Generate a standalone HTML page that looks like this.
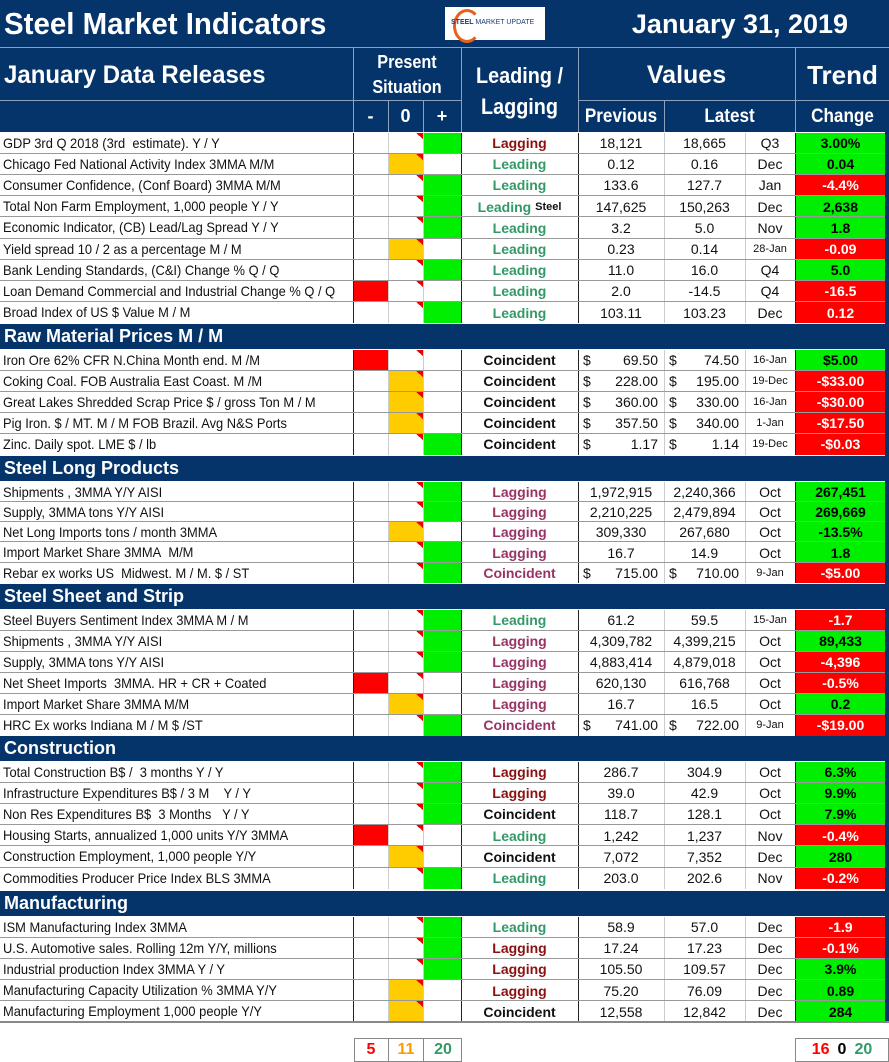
<!DOCTYPE html>
<html><head><meta charset="utf-8">
<style>
body{margin:0;width:889px;height:1061px;background:#fff;position:relative;overflow:hidden;font-family:"Liberation Sans",Arial,sans-serif}
.a{position:absolute;box-sizing:border-box}
.nav{background:#04346a}
.w{color:#fff;font-weight:bold;white-space:nowrap}
.c{display:flex;align-items:center;justify-content:center;white-space:nowrap}
</style></head><body>
<div id="root"></div>
<script>
// Table data
const sections = ["General Economy","Raw Material Prices M / M","Steel Long Products","Steel Sheet and Strip","Construction","Manufacturing"];
const sectionTops = [101,324,456,584,736,891];
const labels = [
["GDP 3rd Q 2018 (3rd  estimate). Y / Y","Chicago Fed National Activity Index 3MMA M/M","Consumer Confidence, (Conf Board) 3MMA M/M","Total Non Farm Employment, 1,000 people Y / Y","Economic Indicator, (CB) Lead/Lag Spread Y / Y","Yield spread 10 / 2 as a percentage M / M","Bank Lending Standards, (C&I) Change % Q / Q","Loan Demand Commercial and Industrial Change % Q / Q","Broad Index of US $ Value M / M"],
["Iron Ore 62% CFR N.China Month end. M /M","Coking Coal. FOB Australia East Coast. M /M","Great Lakes Shredded Scrap Price $ / gross Ton M / M","Pig Iron. $ / MT. M / M FOB Brazil. Avg N&S Ports","Zinc. Daily spot. LME $ / lb"],
["Shipments , 3MMA Y/Y AISI","Supply, 3MMA tons Y/Y AISI","Net Long Imports tons / month 3MMA","Import Market Share 3MMA  M/M","Rebar ex works US  Midwest. M / M. $ / ST"],
["Steel Buyers Sentiment Index 3MMA M / M","Shipments , 3MMA Y/Y AISI","Supply, 3MMA tons Y/Y AISI","Net Sheet Imports  3MMA. HR + CR + Coated","Import Market Share 3MMA M/M","HRC Ex works Indiana M / M $ /ST"],
["Total Construction B$ /  3 months Y / Y","Infrastructure Expenditures B$ / 3 M    Y / Y","Non Res Expenditures B$  3 Months   Y / Y","Housing Starts, annualized 1,000 units Y/Y 3MMA","Construction Employment, 1,000 people Y/Y","Commodities Producer Price Index BLS 3MMA"],
["ISM Manufacturing Index 3MMA","U.S. Automotive sales. Rolling 12m Y/Y, millions","Industrial production Index 3MMA Y / Y","Manufacturing Capacity Utilization % 3MMA Y/Y","Manufacturing Employment 1,000 people Y/Y"]];
const situation = [[1,0,1,1,1,0,1,-1,1],[-1,0,0,0,1],[1,1,0,1,1],[1,1,1,-1,0,1],[1,1,1,-1,0,1],[1,1,1,0,0]];
const types = [["Lagging","Leading","Leading","Leading","Leading","Leading","Leading","Leading","Leading"],["Coincident","Coincident","Coincident","Coincident","Coincident"],["Lagging","Lagging","Lagging","Lagging","Coincident"],["Leading","Lagging","Lagging","Lagging","Lagging","Coincident"],["Lagging","Lagging","Coincident","Leading","Coincident","Leading"],["Leading","Lagging","Lagging","Lagging","Coincident"]];
const previous = [["18,121","0.12","133.6","147,625","3.2","0.23","11.0","2.0","103.11"],["$69.50","$228.00","$360.00","$357.50","$1.17"],["1,972,915","2,210,225","309,330","16.7","$715.00"],["61.2","4,309,782","4,883,414","620,130","16.7","$741.00"],["286.7","39.0","118.7","1,242","7,072","203.0"],["58.9","17.24","105.50","75.20","12,558"]];
const latest = [["18,665","0.16","127.7","150,263","5.0","0.14","16.0","-14.5","103.23"],["$74.50","$195.00","$330.00","$340.00","$1.14"],["2,240,366","2,479,894","267,680","14.9","$710.00"],["59.5","4,399,215","4,879,018","616,768","16.5","$722.00"],["304.9","42.9","128.1","1,237","7,352","202.6"],["57.0","17.23","109.57","76.09","12,842"]];
const periods = [["Q3","Dec","Jan","Dec","Nov","28-Jan","Q4","Q4","Dec"],["16-Jan","19-Dec","16-Jan","1-Jan","19-Dec"],["Oct","Oct","Oct","Oct","9-Jan"],["15-Jan","Oct","Oct","Oct","Oct","9-Jan"],["Oct","Oct","Oct","Nov","Dec","Nov"],["Dec","Dec","Dec","Dec","Dec"]];
const changes = [["3.00%","0.04","-4.4%","2,638","1.8","-0.09","5.0","-16.5","0.12"],["$5.00","-$33.00","-$30.00","-$17.50","-$0.03"],["267,451","269,669","-13.5%","1.8","-$5.00"],["-1.7","89,433","-4,396","-0.5%","0.2","-$19.00"],["6.3%","9.9%","7.9%","-0.4%","280","-0.2%"],["-1.9","-0.1%","3.9%","0.89","284"]];
const trendGood = [[1,1,0,1,1,0,1,0,0],[1,0,0,0,0],[1,1,1,1,0],[0,1,0,0,1,0],[1,1,1,0,1,0],[0,0,1,1,1]];
const rowH = [21.2,21,20.3,21,21.2,21.2];

const root=document.getElementById('root');
function mk(cls,x,y,w,h,html,style){const d=document.createElement('div');d.className='a '+(cls||'');d.style.left=x+'px';d.style.top=y+'px';d.style.width=w+'px';d.style.height=h+'px';if(html!==undefined)d.innerHTML=html;if(style)d.style.cssText+=style;root.appendChild(d);return d;}

let e;
e=mk('nav',0,0,889,132);


e=mk('w',4,4,420,40,'Steel Market Indicators','font-size:31px;line-height:40px;transform:scaleX(0.95);transform-origin:left center');


e=mk('',445,7,100,33,'<div style="position:absolute;left:8px;top:2px;width:22px;height:28px;border:3px solid #e8601c;border-right-color:transparent;border-radius:50%"></div><div style="position:absolute;left:6px;top:12px;font:bold 7px \'Liberation Sans\',sans-serif;color:#1b3a7a;white-space:nowrap">STEEL <span style="font-weight:normal">MARKET UPDATE</span></div>','background:#fff');


e=mk('w',600,4,280,40,'January 31, 2019','font-size:27px;line-height:40px;text-align:center');


[[0,47,889,1],[0,100,353,1],[578,100,217,1],[353,100,108,1],[796,100,93,1]].forEach(r=>mk('',r[0],r[1],r[2],r[3],'','background:#8da0bc'));
[353,461,578,795].forEach(x=>mk('',x,48,1,84,'','background:#8da0bc'));
[388,423,664].forEach(x=>mk('',x,101,1,31,'','background:#8da0bc'));
e=mk('w',4,52,340,46,'January Data Releases','font-size:25px;line-height:46px;transform:scaleX(0.96);transform-origin:left center');


e=mk('w c',353,50,108,50,'<div style="text-align:center;line-height:25px">Present<br>Situation</div>','font-size:18px;transform:scaleX(0.9)');


[['-',353],['0',388],['+',423]].forEach(p=>{const el=mk('w c',p[1],101,p[0]==='+'?38:35,31,p[0],'font-size:18px');

});
e=mk('w c',461,50,117,82,'<div style="text-align:center;line-height:31px">Leading /<br>Lagging</div>','font-size:22px;transform:scaleX(0.9)');


e=mk('w c',578,50,217,50,'Values','font-size:25px');


e=mk('w c',578,101,86,31,'Previous','font-size:19px;transform:scaleX(0.9)');


e=mk('w c',664,101,131,31,'Latest','font-size:19px;transform:scaleX(0.9)');


e=mk('w c',796,50,93,50,'Trend','font-size:26px');


e=mk('w c',796,101,93,31,'Change','font-size:19px;transform:scaleX(0.9)');



const sitColors={'-1':'#ff0000','0':'#ffcc00','1':'#00ee00'};
const sitX={'-1':[353,35],'0':[388,35],'1':[423,38]};
function typeColor(t,s){if(t==='Leading')return '#339966';if(t==='Coincident')return (s===2||s===3)?'#993366':'#111';return (s===2||s===3)?'#993366':'#8b1010';}
const hlines=[];

sections.forEach((name,s)=>{
  const top=sectionTops[s];
  let hh = s===0?31:24;
  if(s>0){e=mk('nav w',0,top,889,hh+1,name,'font-size:18px;line-height:'+hh+'px;padding-left:4px');
  
  }
  const y0 = s===0?132.5:top+hh+1.5;
  const h=rowH[s];
  mk('',0,y0,889,labels[s].length*h,'','background:#fff');
  labels[s].forEach((lab,i)=>{
    const y=y0+i*h;
    if(i>0) hlines.push(y);
    const row=mk('',0,y,885,h);
    
    
    const l=mk('',3,y,350,h,lab.replace(/ {2,}/g,m=>'&nbsp;'.repeat(m.length)),'font-size:14px;line-height:'+h+'px;white-space:nowrap;color:#111;transform:scaleX(0.92);transform-origin:left');
    
    
    const sv=situation[s][i];const sx=sitX[sv];
    const sc=mk('',sx[0],y,sx[1],h,'','background:'+sitColors[sv]);
    
    
    const tri=mk('',416,y,7,6,'','background:linear-gradient(to bottom left,#e00 50%,transparent 50%)');
    
    
    const t=types[s][i];
    let th=t; if(s===0&&i===3) th='Leading&nbsp;<span style="color:#111;font-size:11px">Steel</span>';
    const tc=mk('c',461,y,117,h,th,'font-size:14px;font-weight:bold;color:'+typeColor(t,s));
    
    
    function val(x,w,v,name){
      let el;
      if(v[0]==='$'){el=mk('',x,y,w,h,'<span style="position:absolute;left:5px">$</span><span style="position:absolute;right:6px">'+v.slice(1)+'</span>','font-size:14px;line-height:'+h+'px;color:#111');}
      else el=mk('c',x,y,w,h,v,'font-size:14px;color:#111');
      
      
    }
    val(578,86,previous[s][i],'previous-value');
    val(664,81,latest[s][i],'latest-value');
    const p=periods[s][i];
    const pc=mk('c',745,y,50,h,p,'font-size:'+(p.indexOf('-')>0?'11px':'14px')+';color:#111');
    
    
    const g=trendGood[s][i];
    const cc=mk('c',796,y,89,h,changes[s][i],'font-size:14px;font-weight:bold;background:'+(g?'#00ee00':'#ff0000')+';color:'+(g?'#000':'#fff'));
    
    
  });
  const yEnd=y0+labels[s].length*h;
  [[353,'#222'],[388,'#ccc'],[423,'#ccc'],[461,'#222'],[578,'#222'],[664,'#ccc'],[745,'#ccc'],[795,'#222']].forEach(v=>mk('',v[0],y0,1,yEnd-y0,'','background:'+v[1]));
});
hlines.forEach(y=>mk('',0,Math.round(y)-1,885,1,'','background:#999'));
mk('',885,132,4,890,'','background:#04346a');
mk('',0,1021,889,2,'','background:#888');

// footer summaries
const sitCounts=["5","11","20"];
const trendCounts=["16","0","20"];
const sitCountColors=['#ff0000','#ff9900','#339966'];
const trendCountColors=['#ff0000','#000','#339966'];
e=mk('',354,1038,108,24,'','border:1px solid #888');


sitCounts.forEach((v,i)=>{const xs=[354,388,423],ws=[34,35,39];
const el=mk('c',xs[i],1039,ws[i],22,v,'font-size:16px;font-weight:bold;color:'+sitCountColors[i]+(i?';border-left:1px solid #888':''));

});
e=mk('c',795,1038,94,24,trendCounts.map((v,i)=>'<span style="color:'+trendCountColors[i]+';margin:0 4px">'+v+'</span>').join(''),'border:1px solid #888;font-size:16px;font-weight:bold');


</script>
</body></html>
